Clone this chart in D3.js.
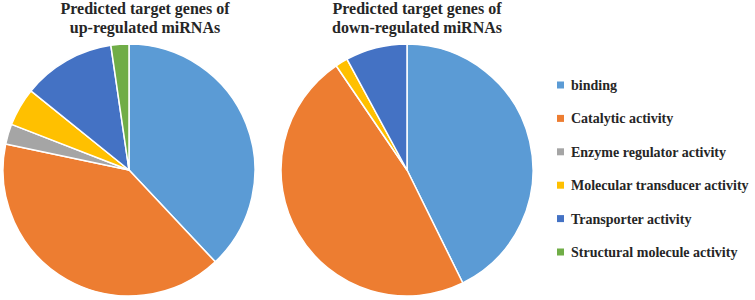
<!DOCTYPE html>
<html><head><meta charset="utf-8">
<script src="https://cdn.jsdelivr.net/npm/d3@7/dist/d3.min.js"></script>
<style>body{margin:0;background:#fff}svg{display:block}</style>
</head><body>
<svg id="c" width="755" height="300"></svg>
<script>
const categories = ["binding","Catalytic activity","Enzyme regulator activity","Molecular transducer activity","Transporter activity","Structural molecule activity"];
const upValues = [38.0, 40.3, 2.6, 4.9, 11.9, 2.3];
const downValues = [42.7, 47.8, 0, 1.6, 7.9, 0];
const titles = [["Predicted target genes of","up-regulated miRNAs"],["Predicted target genes of","down-regulated miRNAs"]];
const colors = ["#5B9BD5","#ED7D31","#A5A5A5","#FFC000","#4472C4","#70AD47"];

const svg = d3.select("#c");
const FONT = '"Liberation Serif","Times New Roman",serif';
const color = d3.scaleOrdinal().domain(categories).range(colors);
const pie = d3.pie().sort(null).value(d => d.v);
const R = 126;
const arc = d3.arc().innerRadius(0).outerRadius(R);

const pies = [
  {vals: upValues, cx: 129, cy: 170, tx: 145, title: titles[0]},
  {vals: downValues, cx: 407, cy: 170, tx: 417, title: titles[1]}
];
pies.forEach(p => {
  const data = categories.map((c,i) => ({c, v: p.vals[i]}));
  const g = svg.append("g").attr("transform", `translate(${p.cx},${p.cy})`);
  g.selectAll("path").data(pie(data).filter(d => d.data.v > 0)).join("path")
    .attr("d", arc).attr("fill", d => color(d.data.c))
    .attr("stroke", "#fff").attr("stroke-width", 1.5).attr("stroke-linejoin","round");
  const t = svg.append("text").attr("x", p.tx).attr("text-anchor","middle")
    .style("font-family", FONT).style("font-weight","bold").style("font-size","16px").attr("fill","#262626");
  p.title.forEach((line, i) => t.append("tspan").attr("x", p.tx).attr("y", 14 + i*18.5).text(line));
});

const leg = svg.append("g");
const ly = d3.scalePoint().domain(categories).range([85, 252]);
const items = leg.selectAll("g").data(categories).join("g")
  .attr("transform", d => `translate(557,${ly(d)})`);
items.append("rect").attr("x",0).attr("y",-3.5).attr("width",7).attr("height",7).attr("fill", d => color(d));
items.append("text").attr("x", 14).attr("y", 0).attr("dy","0.35em")
  .style("font-family", FONT).style("font-weight","bold").style("font-size","14px").attr("fill","#262626")
  .text(d => d);
</script>
</body></html>
